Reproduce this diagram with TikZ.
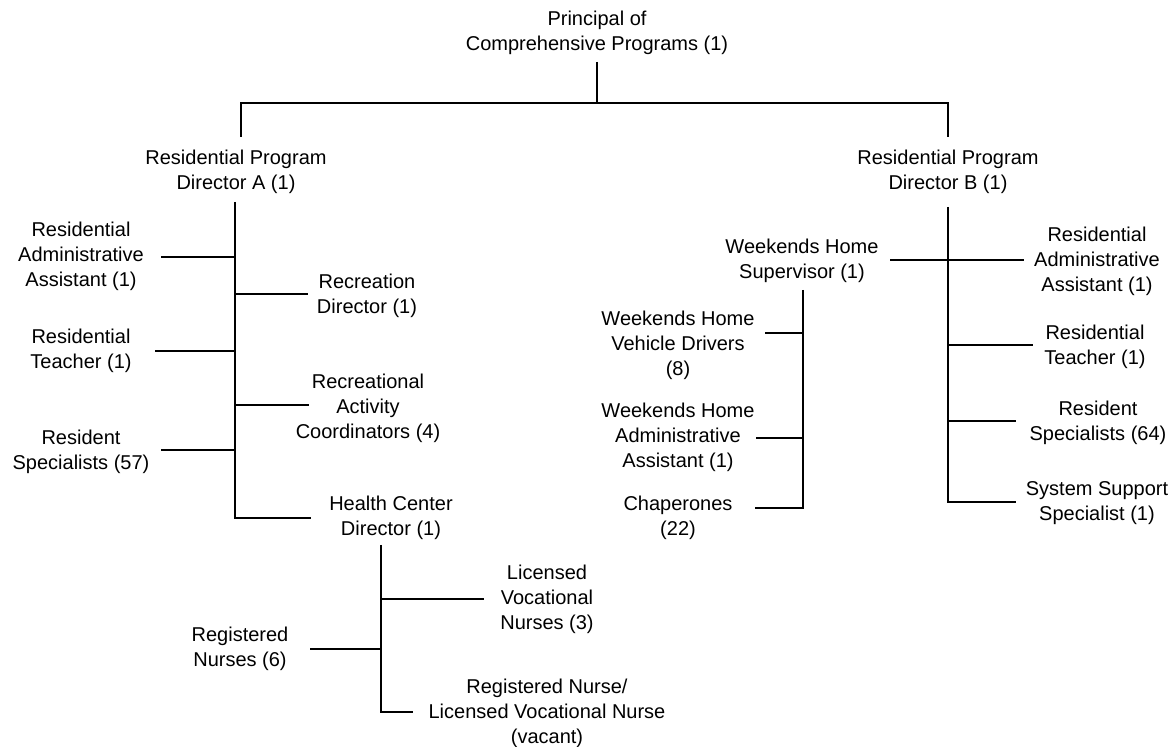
\documentclass[tikz,border=0pt]{standalone}
\usepackage{fontspec}
\setmainfont{Liberation Sans}
\begin{document}
\begin{tikzpicture}[x=0.5pt,y=-0.5pt,
  lbl/.style={align=center,inner sep=0pt,font=\fontsize{10}{12.5}\selectfont},
  conn/.style={line width=0.75pt,line cap=butt}]
\fill[white] (0,0) rectangle (1172,747);
\useasboundingbox (0,0) rectangle (1172,747);
% nodes
\node[lbl] (prin) at (597,33) {Principal of\\Comprehensive Programs (1)};
\node[lbl] (dirA) at (236,172) {Residential Program\\Director A (1)};
\node[lbl] (dirB) at (948,172) {Residential Program\\Director B (1)};
\node[lbl] (rasA) at (81,256) {Residential\\Administrative\\Assistant (1)};
\node[lbl] (recD) at (367,296) {Recreation\\Director (1)};
\node[lbl] (rtA) at (81,351) {Residential\\Teacher (1)};
\node[lbl] (recA) at (368,408) {Recreational\\Activity\\Coordinators (4)};
\node[lbl] (rsA) at (81,452) {Resident\\Specialists (57)};
\node[lbl] (hcd) at (391,518) {Health Center\\Director (1)};
\node[lbl] (lvn) at (547,599) {Licensed\\Vocational\\Nurses (3)};
\node[lbl] (rn) at (240,649) {Registered\\Nurses (6)};
\node[lbl] (rnlvn) at (547,713) {Registered Nurse/\\Licensed Vocational Nurse\\(vacant)};
\node[lbl] (whs) at (802,261) {Weekends Home\\Supervisor (1)};
\node[lbl] (rasB) at (1097,261) {Residential\\Administrative\\Assistant (1)};
\node[lbl] (rtB) at (1095,347) {Residential\\Teacher (1)};
\node[lbl] (rsB) at (1098,423) {Resident\\Specialists (64)};
\node[lbl] (ssB) at (1097,503) {System Support\\Specialist (1)};
\node[lbl] (whvd) at (678,345) {Weekends Home\\Vehicle Drivers\\(8)};
\node[lbl] (whaa) at (678,437) {Weekends Home\\Administrative\\Assistant (1)};
\node[lbl] (chap) at (678,518) {Chaperones\\(22)};
% junction coordinates
\coordinate (pT) at (597,62);
\coordinate (pJ) at (597,103);
\coordinate (aJ) at (241,103);
\coordinate (aT) at (241,137);
\coordinate (bJ) at (948,103);
\coordinate (bT) at (948,137);
% A spine
\coordinate (aS) at (235,202);
\coordinate (aE) at (235,518);
\coordinate (hcdL) at (311,518);
\coordinate (a1) at (235,257); \coordinate (rasAr) at (161,257);
\coordinate (a2) at (235,294); \coordinate (recDl) at (308,294);
\coordinate (a3) at (235,351); \coordinate (rtAr) at (155,351);
\coordinate (a4) at (235,405); \coordinate (recAl) at (309,405);
\coordinate (a5) at (235,450); \coordinate (rsAr) at (161,450);
% health center spine
\coordinate (hS) at (381,545);
\coordinate (hE) at (381,712);
\coordinate (rnlvnL) at (413,712);
\coordinate (h1) at (381,599); \coordinate (lvnL) at (484,599);
\coordinate (h2) at (381,649); \coordinate (rnR) at (310,649);
% B spine
\coordinate (bS) at (948,207);
\coordinate (bE) at (948,502);
\coordinate (ssL) at (1016,502);
\coordinate (whsR) at (890,260); \coordinate (rasBl) at (1024,260);
\coordinate (b2) at (948,345); \coordinate (rtBl) at (1033,345);
\coordinate (b3) at (948,421); \coordinate (rsBl) at (1016,421);
% weekends spine
\coordinate (wS) at (803,290);
\coordinate (wE) at (803,508);
\coordinate (chapR) at (755,508);
\coordinate (w1) at (803,333); \coordinate (whvdR) at (765,333);
\coordinate (w2) at (803,438); \coordinate (whaaR) at (756,438);
% connectors
\draw[conn] (pT) -- (pJ);
\draw[conn] (aT) -- (aJ) -- (bJ) -- (bT);
\draw[conn] (aS) -- (aE) -- (hcdL);
\draw[conn] (rasAr) -- (a1);
\draw[conn] (a2) -- (recDl);
\draw[conn] (rtAr) -- (a3);
\draw[conn] (a4) -- (recAl);
\draw[conn] (rsAr) -- (a5);
\draw[conn] (hS) -- (hE) -- (rnlvnL);
\draw[conn] (h1) -- (lvnL);
\draw[conn] (rnR) -- (h2);
\draw[conn] (bS) -- (bE) -- (ssL);
\draw[conn] (whsR) -- (rasBl);
\draw[conn] (b2) -- (rtBl);
\draw[conn] (b3) -- (rsBl);
\draw[conn] (wS) -- (wE) -- (chapR);
\draw[conn] (whvdR) -- (w1);
\draw[conn] (whaaR) -- (w2);
\end{tikzpicture}
\end{document}
